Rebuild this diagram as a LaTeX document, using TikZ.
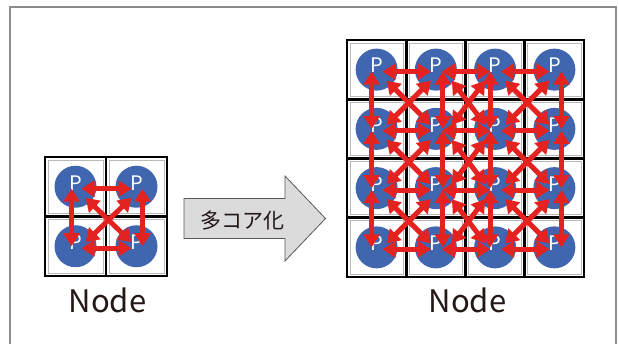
\documentclass[tikz,border=0pt]{standalone}
\usepackage{fontspec}
\setmainfont{Noto Sans CJK JP}
\usetikzlibrary{arrows.meta,calc}
\definecolor{pblue}{HTML}{3F66AF}
\definecolor{ared}{HTML}{E42320}
\definecolor{framecol}{HTML}{8C8C8C}
\definecolor{ink}{HTML}{231815}
\begin{document}
\begin{tikzpicture}[x=1pt,y=-1pt,
  pe/.style={circle,fill=pblue,minimum size=42pt,inner sep=0pt,
    label={[text=white,font=\fontsize{20}{20}\selectfont,yshift=4pt]center:P}},
  link/.style={draw=ared,line width=5pt,
    {Triangle[length=13pt,width=16pt]}-{Triangle[length=13pt,width=16pt]}},
  gridline/.style={draw=black,line width=2.8pt},
  innercell/.style={draw=black!28,line width=0.6pt},
  label text/.style={text=ink,font=\fontsize{31}{31}\selectfont,anchor=base}]
\useasboundingbox (0,0) rectangle (619,344);
% outer frame
\draw[framecol,line width=1.3pt] (10,345) -- (10,7) -- (616,7) -- (616,345);

% ---------- small grid ----------
\foreach \r in {1,2}{\foreach \c in {1,2}{
  \draw[innercell] ({45+61*(\c-1)+3},{157+59.5*(\r-1)+3}) rectangle ({45+61*\c-3},{157+59.5*\r-3});
}}
\draw[gridline] (45,157) rectangle (167,276);
\draw[gridline] (106,157) -- (106,276);
\draw[gridline] (45,216.5) -- (167,216.5);
\foreach \r in {1,2}{\foreach \c in {1,2}{
  \node[pe] (S\r\c) at ({45+61*(\c-0.5)},{157+59.5*(\r-0.5)}) {};
}}
% horizontal
\foreach \r in {1,2}{\draw[link] ($(S\r1)+(6,2)$) -- ($(S\r2)+(-5,2)$);}
% vertical
\foreach \c/\o in {1/-4,2/6}{\draw[link] ($(S1\c)+(\o,2)$) -- ($(S2\c)+(\o,0)$);}
% diagonal
\draw[link] ($(S11)+(10,11)$) -- ($(S22)+(-5,-4)$);
\draw[link] ($(S12)+(-5,11)$) -- ($(S21)+(10,-4)$);

% ---------- big grid ----------
\foreach \r in {1,...,4}{\foreach \c in {1,...,4}{
  \draw[innercell] ({347+59.25*(\c-1)+3},{40+59.25*(\r-1)+3}) rectangle ({347+59.25*\c-3},{40+59.25*\r-3});
}}
\draw[gridline] (347,40) rectangle (584,277);
\foreach \i in {1,2,3}{
  \draw[gridline] ({347+59.25*\i},40) -- ({347+59.25*\i},277);
  \draw[gridline] (347,{40+59.25*\i}) -- (584,{40+59.25*\i});
}
\foreach \r in {1,...,4}{\foreach \c in {1,...,4}{
  \node[pe] (B\r\c) at ({347+59.25*(\c-0.5)},{40+59.25*(\r-0.5)}) {};
}}
% horizontal links
\foreach \r in {1,...,4}{\foreach \c in {1,2,3}{
  \pgfmathtruncatemacro\d{\c+1}
  \draw[link] ($(B\r\c)+(6,2)$) -- ($(B\r\d)+(-5,2)$);
}}
% vertical links
\foreach \c/\o in {1/-5,2/7,3/-5,4/7}{\foreach \r in {1,2,3}{
  \pgfmathtruncatemacro\s{\r+1}
  \draw[link] ($(B\r\c)+(\o,2)$) -- ($(B\s\c)+(\o,0)$);
}}
% diagonal links
\foreach \c/\a/\b in {1/10/-5,2/16/-10,3/10/-5}{\foreach \r in {1,2,3}{
  \pgfmathtruncatemacro\d{\c+1}
  \pgfmathtruncatemacro\s{\r+1}
  \draw[link] ($(B\r\c)+(\a,11)$) -- ($(B\s\d)+(\b,-4)$);
  \draw[link] ($(B\r\d)+(\b,11)$) -- ($(B\s\c)+(\a,-4)$);
}}

% ---------- big arrow ----------
\draw[fill=black!14,draw=black!65,line width=0.8pt]
  (184,198.5) -- (285,198.5) -- (285,176) -- (325.5,218.5) -- (285,261)
  -- (285,238.5) -- (184,238.5) -- cycle;
\node[text=ink,font=\fontsize{21}{21}\selectfont] (tx) at (242,221) {多コア化};

% ---------- labels ----------
\node[label text] (n1) at (107.5,313) {Node};
\node[label text] (n2) at (467.5,313) {Node};
\end{tikzpicture}
\end{document}
